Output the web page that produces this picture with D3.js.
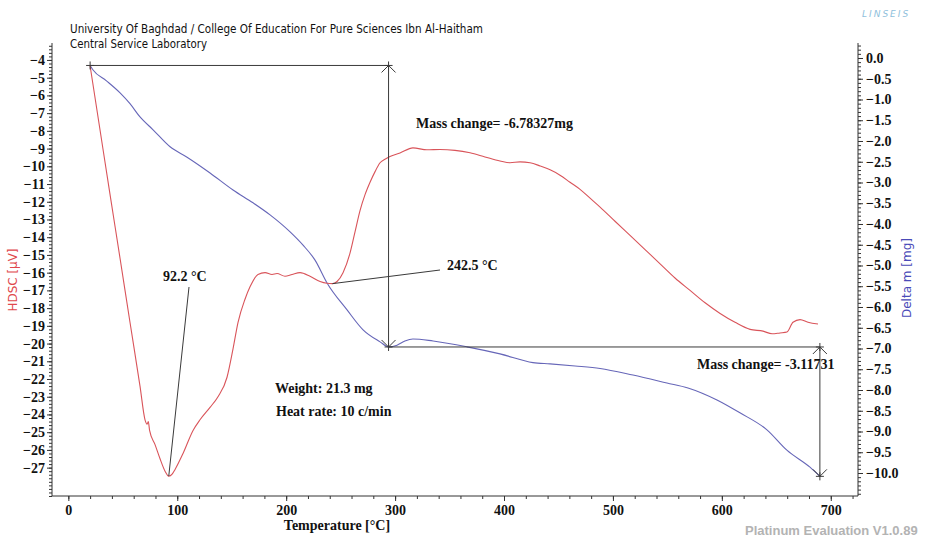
<!DOCTYPE html>
<html>
<head>
<meta charset="utf-8">
<script src="https://cdn.jsdelivr.net/npm/d3@7"></script>
<style>
  body { margin: 0; background: #fff; }
  svg { display: block; }
  .tick-label { font-family: "Liberation Serif", "Times New Roman", serif; font-weight: bold; font-size: 14px; fill: #111; }
  .note { font-family: "Liberation Serif", "Times New Roman", serif; font-weight: bold; font-size: 14px; fill: #111; }
</style>
</head>
<body>
<svg id="chart" width="931" height="540"></svg>
<script>
// DSC signal (µV) against temperature (°C)
const dscTemp = [20, 29.1, 38.3, 47.5, 56.6, 65.8, 70.4, 72.3, 73.4, 74.6, 79.6, 84.2, 88.8, 92.2, 95.5, 98,
  105.3, 114.5, 120.9, 130.1, 137.4, 145.7, 151.2, 155.8, 162.2, 166.8, 174.1, 180.6, 187.0, 191.6, 198.9,
  205.4, 212.7, 221.9, 231.1, 237.5, 242.5, 246.7, 252.2, 258.6, 263.2, 267.8, 272.4, 277.0, 281.6, 286.2,
  290.7, 295.3, 304.5, 316.4, 329.3, 341.2, 355.0, 368.8, 382.5, 396.3, 405.5, 414.7, 423.9, 433.1, 442.3,
  451.4, 460.6, 469.8, 479.0, 488.2, 501.9, 515.7, 529.5, 543.3, 557.0, 570.8, 584.6, 598.4, 612.1, 625.9,
  637.8, 646.1, 653.4, 659.8, 665.3, 671.8, 679.1, 688.3];
const dscValue = [-4.34, -7.95, -11.6, -15.2, -18.8, -22.4, -24.3, -24.55, -24.4, -24.9, -25.7, -26.5, -27.2, -27.48, -27.35, -27.1,
  -26.2, -24.9, -24.3, -23.6, -23.0, -21.9, -20.3, -18.8, -17.5, -16.8, -16.1, -16.0, -16.1, -16.05, -16.2,
  -16.1, -16.0, -16.2, -16.5, -16.6, -16.62, -16.5, -16.0, -14.9, -13.7, -12.5, -11.6, -10.9, -10.3, -9.8,
  -9.6, -9.45, -9.25, -8.96, -9.07, -9.05, -9.1, -9.24, -9.47, -9.7, -9.8, -9.75, -9.8, -9.98, -10.2,
  -10.5, -10.9, -11.3, -11.8, -12.3, -13.1, -13.9, -14.7, -15.5, -16.3, -17.0, -17.7, -18.3, -18.8, -19.2,
  -19.3, -19.45, -19.4, -19.35, -18.8, -18.65, -18.8, -18.9];

// TG mass change (mg) against temperature (°C)
const tgTemp = [20, 22.7, 35, 47.5, 56.6, 65.8, 77.8, 93.4, 109.0, 130.1, 151.2, 169.6, 185.2, 203.6, 215.5,
  226.5, 237.5, 255.9, 270.6, 286.2, 294, 301.8, 309, 316.4, 334.9, 366.0, 396.3, 426.6, 442.3, 465.3,
  488.2, 518.4, 549.6, 568.9, 595.5, 616.6, 641.4, 659.7, 680.9, 690];
const tgValue = [-0.18, -0.29, -0.55, -0.84, -1.1, -1.42, -1.73, -2.14, -2.39, -2.77, -3.18, -3.49, -3.78, -4.19, -4.51,
  -4.87, -5.42, -6.07, -6.55, -6.84, -6.96, -6.92, -6.82, -6.77, -6.82, -6.96, -7.13, -7.34, -7.37, -7.42,
  -7.48, -7.64, -7.83, -7.95, -8.24, -8.55, -8.96, -9.45, -9.86, -10.08];

// Axis tick labels
const xTicks = [0, 100, 200, 300, 400, 500, 600, 700];
const leftTicks = [-4, -5, -6, -7, -8, -9, -10, -11, -12, -13, -14, -15, -16, -17, -18, -19, -20, -21, -22, -23, -24, -25, -26, -27];
const rightTicks = [0, -0.5, -1, -1.5, -2, -2.5, -3, -3.5, -4, -4.5, -5, -5.5, -6, -6.5, -7, -7.5, -8, -8.5, -9, -9.5, -10];

// Mass-step annotation: start mass, the two measured changes, and the step temperatures
const massStart = -0.18;
const massChanges = [-6.78327, -3.11731];
const stepTemps = [20, 294, 690];

// Peak temperatures on the DSC curve
const peakTemps = [92.2, 242.5];

const svg = d3.select("#chart");

const x = d3.scaleLinear().domain([-15, 725]).range([52, 858]);
const yL = d3.scaleLinear().domain([-28.6, -3.1]).range([496, 44]);
const yR = d3.scaleLinear().domain([-10.554, 0.337]).range([496, 44]);

const axisColor = "#333";

// ---- Header text ----
svg.append("text").attr("x", 70).attr("y", 33)
  .attr("font-family", "Tahoma, 'DejaVu Sans', sans-serif").attr("font-size", 12).attr("fill", "#111")
  .attr("textLength", 413).attr("lengthAdjust", "spacingAndGlyphs")
  .text("University Of Baghdad / College Of Education For Pure Sciences Ibn Al-Haitham");
svg.append("text").attr("x", 70).attr("y", 48)
  .attr("font-family", "Tahoma, 'DejaVu Sans', sans-serif").attr("font-size", 12).attr("fill", "#111")
  .attr("textLength", 137).attr("lengthAdjust", "spacingAndGlyphs")
  .text("Central Service Laboratory");

svg.append("text").attr("x", 862).attr("y", 17)
  .attr("font-family", "'DejaVu Sans', sans-serif").attr("font-size", 9).attr("font-style", "italic")
  .attr("letter-spacing", 2).attr("fill", "#8fbfdc")
  .text("LINSEIS");
svg.append("text").attr("x", 745).attr("y", 535)
  .attr("font-family", "Arial, 'Liberation Sans', sans-serif").attr("font-size", 13).attr("font-weight", "bold")
  .attr("fill", "#b3b3b3")
  .text("Platinum Evaluation V1.0.89");

// ---- Axes ----
function minorRange(lo, hi, step) {
  const n = Math.round((hi - lo) / step);
  return d3.range(n + 1).map(i => +(lo + i * step).toFixed(4));
}

// left axis (DSC)
const gL = svg.append("g").attr("transform", "translate(52,0)");
gL.call(d3.axisLeft(yL).tickValues(minorRange(-28.6, -3.2, 0.2)).tickSize(3).tickFormat(""));
gL.append("g").call(d3.axisLeft(yL).tickValues(leftTicks).tickSize(5).tickFormat(d3.format("d")));
gL.selectAll(".tick text").attr("class", "tick-label").attr("x", -7).attr("font-size", null).attr("font-family", null);

// right axis (TG)
const gR = svg.append("g").attr("transform", "translate(858,0)");
gR.call(d3.axisRight(yR).tickValues(minorRange(-10.5, 0.3, 0.1)).tickSize(3).tickFormat(""));
gR.append("g").call(d3.axisRight(yR).tickValues(rightTicks).tickSize(5).tickFormat(d3.format(".1f")));
gR.selectAll(".tick text").attr("class", "tick-label").attr("x", 8).attr("font-size", null).attr("font-family", null);

// bottom axis (temperature)
const gB = svg.append("g").attr("transform", "translate(0,496)");
gB.call(d3.axisBottom(x).tickValues(minorRange(0, 720, 20)).tickSize(3).tickFormat(""));
gB.append("g").call(d3.axisBottom(x).tickValues(xTicks).tickSize(5).tickFormat(d3.format("d")));
gB.selectAll(".tick text").attr("class", "tick-label").attr("y", 9).attr("font-size", null).attr("font-family", null);

svg.selectAll(".tick line").attr("stroke", axisColor);
// plain axis lines spanning the plot frame
svg.selectAll(".domain").remove();
svg.append("line").attr("x1", 52).attr("x2", 52).attr("y1", 43).attr("y2", 496).attr("stroke", axisColor);
svg.append("line").attr("x1", 858).attr("x2", 858).attr("y1", 43).attr("y2", 496).attr("stroke", axisColor);
svg.append("line").attr("x1", 52).attr("x2", 858).attr("y1", 496).attr("y2", 496).attr("stroke", axisColor);

// axis titles
svg.append("text").attr("class", "note").attr("x", 337).attr("y", 530)
  .attr("text-anchor", "middle").attr("font-size", 15).text("Temperature [°C]");
svg.append("text")
  .attr("transform", "translate(17,280) rotate(-90)")
  .attr("text-anchor", "middle")
  .attr("font-family", "Tahoma, 'DejaVu Sans', sans-serif").attr("font-size", 12).attr("fill", "#e0474c")
  .attr("textLength", 63).attr("lengthAdjust", "spacingAndGlyphs")
  .text("HDSC [µV]");
svg.append("text")
  .attr("transform", "translate(911,278) rotate(-90)")
  .attr("text-anchor", "middle")
  .attr("font-family", "Tahoma, 'DejaVu Sans', sans-serif").attr("font-size", 12).attr("fill", "#4a4ab8")
  .attr("textLength", 80).attr("lengthAdjust", "spacingAndGlyphs")
  .text("Delta m [mg]");

// ---- Curves ----
const dscData = dscTemp.map((t, i) => [t, dscValue[i]]);
const tgData = tgTemp.map((t, i) => [t, tgValue[i]]);

svg.append("path").datum(tgData)
  .attr("fill", "none").attr("stroke", "#6666b8").attr("stroke-width", 1.1)
  .attr("d", d3.line().x(d => x(d[0])).y(d => yR(d[1])).curve(d3.curveMonotoneX));
svg.append("path").datum(dscData)
  .attr("fill", "none").attr("stroke", "#d9545a").attr("stroke-width", 1.1)
  .attr("d", d3.line().x(d => x(d[0])).y(d => yL(d[1])).curve(d3.curveMonotoneX));

// ---- Mass-step annotation ----
const m1 = massStart + massChanges[0];
const m2 = m1 + massChanges[1];
const ann = svg.append("g").attr("stroke", "#3a3a3a").attr("stroke-width", 1).attr("fill", "none");
const pts = {
  a: [x(stepTemps[0]), yR(massStart)],
  b: [x(stepTemps[1]), yR(massStart)],
  c: [x(stepTemps[1]), yR(m1)],
  d: [x(stepTemps[2]), yR(m1)],
  e: [x(stepTemps[2]), yR(m2)]
};
ann.append("path").attr("d", d3.line()([pts.a, pts.b, pts.c, pts.d, pts.e]));
function cross(p) {
  ann.append("path").attr("d", `M${p[0]-4},${p[1]}H${p[0]+4}M${p[0]},${p[1]-4}V${p[1]+4}`);
}
function arrow(p, dir) {
  const s = 7 * dir;
  ann.append("path").attr("d", `M${p[0]-7},${p[1]+s}L${p[0]},${p[1]}L${p[0]+7},${p[1]+s}`);
}
[pts.a, pts.b, pts.c, pts.d, pts.e].forEach(cross);
arrow(pts.b, 1);
arrow(pts.c, -1);
arrow(pts.d, 1);
arrow(pts.e, -1);

svg.append("text").attr("class", "note").attr("x", 416).attr("y", 128)
  .text(`Mass change= ${massChanges[0].toFixed(5)}mg`);
svg.append("text").attr("class", "note").attr("x", 697).attr("y", 369)
  .text(`Mass change= ${massChanges[1].toFixed(5)}`);

// ---- Peak leaders ----
const dscAt = t => {
  const i = d3.bisector(d => d[0]).left(dscData, t);
  if (i <= 0) return dscData[0][1];
  const p0 = dscData[i - 1], p1 = dscData[i];
  return p0[1] + (p1[1] - p0[1]) * (t - p0[0]) / (p1[0] - p0[0]);
};
const peakLabelPos = [[163, 281, 189, 287], [447, 270, 440, 270]];
peakTemps.forEach((t, i) => {
  const [tx, ty, lx, ly] = peakLabelPos[i];
  svg.append("line").attr("x1", lx).attr("y1", ly).attr("x2", x(t)).attr("y2", yL(dscAt(t)))
    .attr("stroke", "#3a3a3a").attr("stroke-width", 1);
  svg.append("text").attr("class", "note").attr("x", tx).attr("y", ty).text(`${t} °C`);
});

// ---- Sample info ----
svg.append("text").attr("class", "note").attr("x", 275).attr("y", 393).text("Weight: 21.3 mg");
svg.append("text").attr("class", "note").attr("x", 276).attr("y", 416).text("Heat rate: 10 c/min");
</script>
</body>
</html>
